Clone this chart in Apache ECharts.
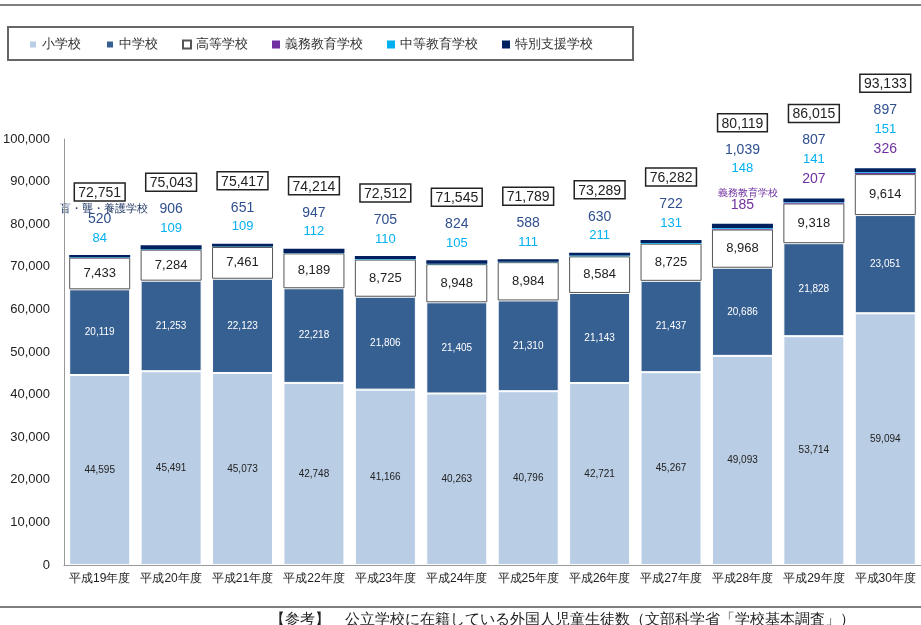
<!DOCTYPE html><html><head><meta charset="utf-8"><script src="https://cdn.jsdelivr.net/npm/echarts@6/dist/echarts.min.js"></script></head><body style="margin:0"><div id="c" style="width:921px;height:625px"></div><script>
const cats=['平成19年度','平成20年度','平成21年度','平成22年度','平成23年度','平成24年度','平成25年度','平成26年度','平成27年度','平成28年度','平成29年度','平成30年度'];
const elem=[44595,45491,45073,42748,41166,40263,40796,42721,45267,49093,53714,59094];
const mid=[20119,21253,22123,22218,21806,21405,21310,21143,21437,20686,21828,23051];
const high=[7433,7284,7461,8189,8725,8948,8984,8584,8725,8968,9318,9614];
const gimu=[0,0,0,0,0,0,0,0,0,185,207,326];
const chuto=[84,109,109,112,110,105,111,211,131,148,141,151];
const toku=[520,906,651,947,705,824,588,630,722,1039,807,897];
const totals=[72751,75043,75417,74214,72512,71545,71789,73289,76282,80119,86015,93133];
const f=v=>v.toLocaleString('en-US');
const ch=echarts.init(document.getElementById('c'));
const common={type:'bar',stack:'s',barWidth:61};
ch.setOption({
animation:false,
grid:{left:62,right:-2,top:139,bottom:60},
legend:{data:['小学校','中学校','高等学校','義務教育学校','中等教育学校','特別支援学校'],left:8,top:27,width:650,height:25,padding:[11,40,9,20],itemGap:24,borderColor:'#666',borderWidth:2,itemWidth:8,itemHeight:8,icon:'rect',textStyle:{fontSize:13,color:'#333'}},
graphic:[{type:'line',shape:{x1:0,y1:5,x2:921,y2:5},style:{stroke:'#555',lineWidth:1.5}},
{type:'line',shape:{x1:0,y1:607,x2:921,y2:607},style:{stroke:'#555',lineWidth:1.5}},
{type:'text',left:270,top:612,style:{text:'【参考】　公立学校に在籍している外国人児童生徒数（文部科学省「学校基本調査」）',fontSize:15,fill:'#222'}},
{type:'text',left:60,top:203,style:{text:'盲・聾・養護学校',fontSize:11,fill:'#1f3864'}},
{type:'text',left:718,top:188,style:{text:'義務教育学校',fontSize:10,fill:'#7030a0'}}],
xAxis:{type:'category',data:cats,axisTick:{show:false},axisLine:{lineStyle:{color:'#999'}},axisLabel:{color:'#222',fontSize:12,interval:0}},
yAxis:{type:'value',min:0,max:100000,interval:10000,splitLine:{show:false},axisLine:{show:true,lineStyle:{color:'#999'}},axisLabel:{color:'#222',fontSize:13,formatter:v=>f(v),margin:14}},
series:[
{...common,name:'小学校',data:elem,itemStyle:{color:'#b9cde5',borderColor:'#fff',borderWidth:1},label:{show:true,fontSize:10,color:'#222',formatter:p=>f(p.value)}},
{...common,name:'中学校',data:mid,itemStyle:{color:'#376092',borderColor:'#fff',borderWidth:1},label:{show:true,fontSize:10,color:'#fff',formatter:p=>f(p.value)}},
{...common,name:'高等学校',data:high,itemStyle:{color:'#fff',borderColor:'#555',borderWidth:1},label:{show:true,fontSize:13,color:'#222',formatter:p=>f(p.value)}},
{...common,name:'義務教育学校',data:gimu,itemStyle:{color:'#7030a0'}},
{...common,name:'中等教育学校',data:chuto,itemStyle:{color:'#00b0f0'}},
{...common,name:'特別支援学校',data:toku,itemStyle:{color:'#002060'}},
{...common,name:'total',data:totals.map(()=>0),itemStyle:{color:'transparent'},
 label:{show:true,position:'top',distance:8,align:'center',formatter:p=>{const i=p.dataIndex;let s='{box|'+f(totals[i])+'}\n{b|'+f(toku[i])+'}\n{c|'+f(chuto[i])+'}';if(i==9)s+='\n{gap|}\n{p|'+f(gimu[i])+'}';else if(gimu[i])s+='\n{p|'+f(gimu[i])+'}';return s;},
 rich:{box:{fontSize:14,color:'#222',borderColor:'#222',borderWidth:1.5,padding:[3,4,1,4],lineHeight:34},b:{fontSize:14,color:'#2f4f8f',lineHeight:20},c:{fontSize:13,color:'#00b0f0',lineHeight:18},p:{fontSize:14,color:'#7030a0',lineHeight:22},gap:{lineHeight:16}}}}
]});
</script></body></html>
